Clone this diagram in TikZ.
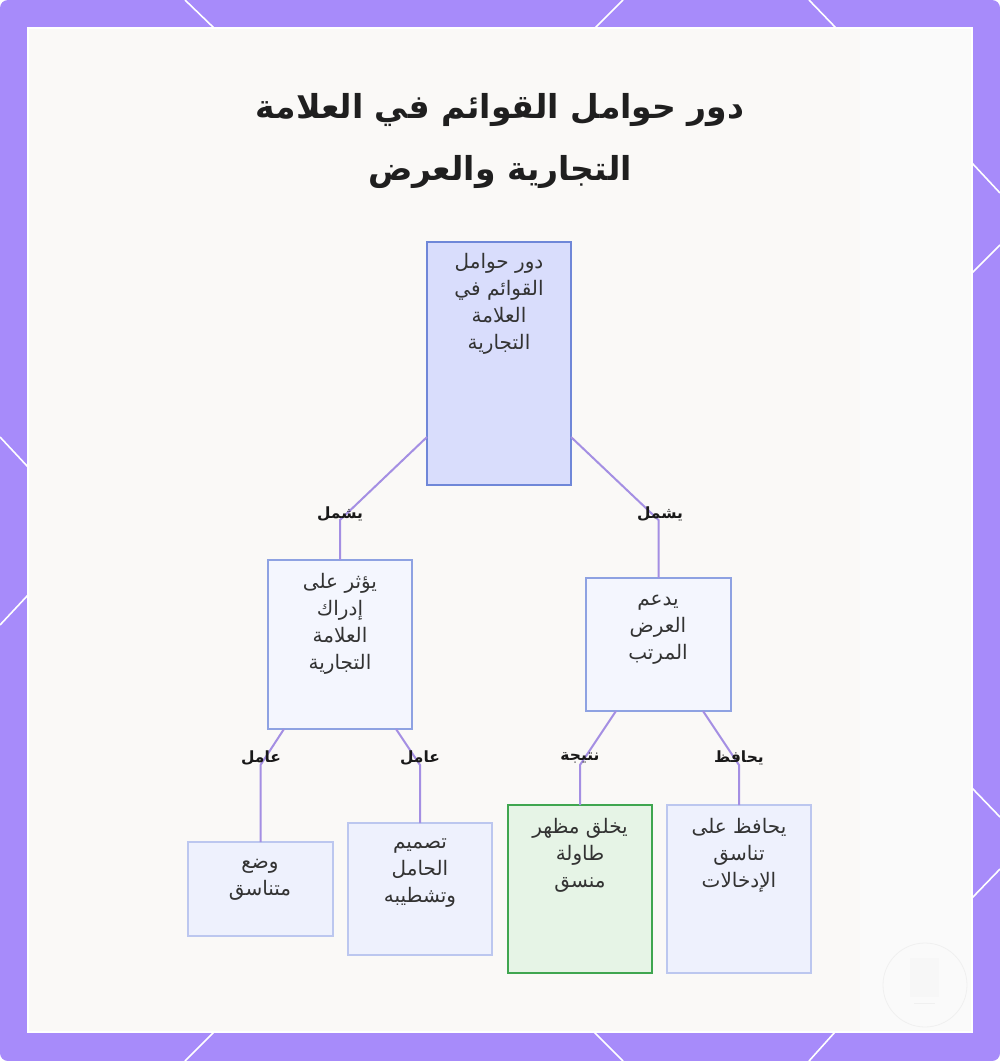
\documentclass[tikz,border=0pt]{standalone}
\usepackage{graphicx}
\usepackage{fontspec}
\setmainfont{DejaVu Sans}
\newfontfamily\arabicfont[Script=Arabic]{DejaVu Sans}
\TeXXeTstate=1
\newcommand\ar[1]{{\beginR #1\endR}}
\definecolor{framec}{HTML}{A78BFA}
\definecolor{innerc}{HTML}{FAF9F7}
\definecolor{edgec}{HTML}{A48FE3}
\definecolor{topfill}{HTML}{D9DDFC}
\definecolor{topdraw}{HTML}{6F87D8}
\definecolor{midfill}{HTML}{F4F6FE}
\definecolor{middraw}{HTML}{8EA2E2}
\definecolor{leaffill}{HTML}{EEF1FD}
\definecolor{leafdraw}{HTML}{BCC7EF}
\definecolor{grnfill}{HTML}{E6F4E6}
\definecolor{grndraw}{HTML}{3FA650}
\definecolor{txtc}{HTML}{333333}
\tikzset{
  box/.style={draw, rectangle, inner sep=0pt, outer sep=0pt, line width=1.5pt, anchor=north west},
  topbox/.style={box, fill=topfill, draw=topdraw},
  midbox/.style={box, fill=midfill, draw=middraw},
  leafbox/.style={box, fill=leaffill, draw=leafdraw},
  grnbox/.style={box, fill=grnfill, draw=grndraw},
  btxt/.style={font=\arabicfont\fontsize{20}{27}\selectfont, text=txtc, align=center, inner sep=0pt},
  elabel/.style={font=\arabicfont\bfseries\fontsize{15.5}{18}\selectfont, text=black!90, inner sep=0pt},
  edge/.style={draw=edgec, line width=2pt},
  deco/.style={draw=white, line width=1.6pt}
}
\begin{document}
\begin{tikzpicture}[x=1pt,y=-1pt]
\useasboundingbox (0,0) rectangle (1000,1061);
% frame
\fill[framec, rounded corners=8pt] (0,0) rectangle (1000,1061);
\fill[innerc] (28,28) rectangle (972,1032);
\draw[white, line width=1.5pt] (28,28) rectangle (972,1032);
% decorative lines on frame
\draw[deco] (185,0) -- (214,28);
\draw[deco] (623,0) -- (595,28);
\draw[deco] (809,0) -- (836,28);
\draw[deco] (214,1032) -- (185,1061);
\draw[deco] (594,1032) -- (623,1061);
\draw[deco] (835,1032) -- (809,1061);
\draw[deco] (0,437) -- (28,467);
\draw[deco] (28,595) -- (0,625);
\draw[deco] (972,163) -- (1000,193);
\draw[deco] (972,273) -- (1000,245);
\draw[deco] (972,788) -- (1000,817);
\draw[deco] (972,898) -- (1000,869);
% faint background
\begin{scope}
\clip (30,30) rectangle (970,1030);
\fill[black!2] (860,30) rectangle (970,1030);
\draw[black!6, line width=0.8pt] (925,985) circle (42);
\fill[black!3] (910,958) rectangle (939,997);
\draw[black!6, line width=0.8pt] (914,1003) -- (935,1003);
\end{scope}
% title
\node[font=\arabicfont\bfseries\fontsize{33}{62}\selectfont, text=black!88, align=center, inner sep=0pt] (title) at (500,141)
  {\ar{دور حوامل القوائم في العلامة}\\\ar{التجارية والعرض}};
% boxes
\node[topbox, minimum width=144pt, minimum height=243pt] (T) at (427,242) {};
\node[midbox, minimum width=144pt, minimum height=169pt] (L1) at (268,560) {};
\node[midbox, minimum width=145pt, minimum height=133pt] (R1) at (586,578) {};
\node[leafbox, minimum width=145pt, minimum height=94pt] (LL) at (188,842) {};
\node[leafbox, minimum width=144pt, minimum height=132pt] (LR) at (348,823) {};
\node[grnbox, minimum width=144pt, minimum height=168pt] (RL) at (508,805) {};
\node[leafbox, minimum width=144pt, minimum height=168pt] (RR) at (667,805) {};
% box texts
\node[btxt] (tT) at (499,304) {\ar{دور حوامل}\\\ar{القوائم في}\\\ar{العلامة}\\\ar{التجارية}};
\node[btxt] (tL1) at (340,624) {\ar{يؤثر على}\\\ar{إدراك}\\\ar{العلامة}\\\ar{التجارية}};
\node[btxt] (tR1) at (658,630) {\ar{يدعم}\\\ar{العرض}\\\ar{المرتب}};
\node[btxt] (tLL) at (260,880) {\ar{وضع}\\\ar{متناسق}};
\node[btxt] (tLR) at (420,873) {\ar{تصميم}\\\ar{الحامل}\\\ar{وتشطيبه}};
\node[btxt] (tRL) at (580,855) {\ar{يخلق مظهر}\\\ar{طاولة}\\\ar{منسق}};
\node[btxt] (tRR) at (739,855) {\ar{يحافظ على}\\\ar{تناسق}\\\ar{الإدخالات}};
% bend points
\coordinate (b1) at (340,520);
\coordinate (b2) at (658.5,520);
\coordinate (b3) at (260.5,765);
\coordinate (b4) at (420,765);
\coordinate (b5) at (580,765);
\coordinate (b6) at (739,765);
% connectors
\draw[edge] ([yshift=48pt]T.south west) -- (b1) -- (L1.north);
\draw[edge] ([yshift=48pt]T.south east) -- (b2) -- (R1.north);
\draw[edge] ([xshift=16pt]L1.south west) -- (b3) -- (LL.north);
\draw[edge] ([xshift=-16pt]L1.south east) -- (b4) -- (LR.north);
\draw[edge] ([xshift=30pt]R1.south west) -- (b5) -- (RL.north);
\draw[edge] ([xshift=-28pt]R1.south east) -- (b6) -- (RR.north);
% edge labels
\node[elabel] (e1) at (340,514) {\ar{يشمل}};
\node[elabel] (e2) at (660,514) {\ar{يشمل}};
\node[elabel] (e3) at (261,758) {\ar{عامل}};
\node[elabel] (e4) at (420,758) {\ar{عامل}};
\node[elabel] (e5) at (580,758) {\ar{نتيجة}};
\node[elabel] (e6) at (739,758) {\ar{يحافظ}};
\end{tikzpicture}
\end{document}
